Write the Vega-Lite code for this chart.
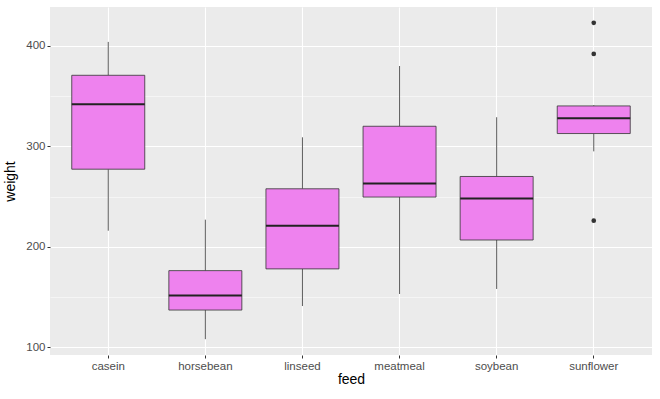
{
  "$schema": "https://vega.github.io/schema/vega-lite/v6.json",
  "width": 602,
  "height": 348,
  "autosize": {"type": "none"},
  "padding": {"left": 50, "top": 7, "right": 8, "bottom": 44},
  "background": "white",
  "config": {
    "view": {"fill": "#EBEBEB", "stroke": null},
    "font": "Liberation Sans",
    "axis": {
      "domain": false,
      "gridColor": "white",
      "tickColor": "#333333",
      "tickSize": 3,
      "labelColor": "#4D4D4D",
      "labelFontSize": 11.5,
      "titleFontSize": 14,
      "titleFontWeight": "normal",
      "titleColor": "black"
    }
  },
  "data": {
    "values": [
      {"feed": "horsebean", "weight": 179}, {"feed": "horsebean", "weight": 160}, {"feed": "horsebean", "weight": 136}, {"feed": "horsebean", "weight": 227}, {"feed": "horsebean", "weight": 217}, {"feed": "horsebean", "weight": 168}, {"feed": "horsebean", "weight": 108}, {"feed": "horsebean", "weight": 124}, {"feed": "horsebean", "weight": 143}, {"feed": "horsebean", "weight": 140},
      {"feed": "linseed", "weight": 309}, {"feed": "linseed", "weight": 229}, {"feed": "linseed", "weight": 181}, {"feed": "linseed", "weight": 141}, {"feed": "linseed", "weight": 260}, {"feed": "linseed", "weight": 203}, {"feed": "linseed", "weight": 148}, {"feed": "linseed", "weight": 169}, {"feed": "linseed", "weight": 213}, {"feed": "linseed", "weight": 257}, {"feed": "linseed", "weight": 244}, {"feed": "linseed", "weight": 271},
      {"feed": "soybean", "weight": 243}, {"feed": "soybean", "weight": 230}, {"feed": "soybean", "weight": 248}, {"feed": "soybean", "weight": 327}, {"feed": "soybean", "weight": 329}, {"feed": "soybean", "weight": 250}, {"feed": "soybean", "weight": 193}, {"feed": "soybean", "weight": 271}, {"feed": "soybean", "weight": 316}, {"feed": "soybean", "weight": 267}, {"feed": "soybean", "weight": 199}, {"feed": "soybean", "weight": 171}, {"feed": "soybean", "weight": 158}, {"feed": "soybean", "weight": 248},
      {"feed": "sunflower", "weight": 423}, {"feed": "sunflower", "weight": 340}, {"feed": "sunflower", "weight": 392}, {"feed": "sunflower", "weight": 339}, {"feed": "sunflower", "weight": 341}, {"feed": "sunflower", "weight": 226}, {"feed": "sunflower", "weight": 320}, {"feed": "sunflower", "weight": 295}, {"feed": "sunflower", "weight": 334}, {"feed": "sunflower", "weight": 322}, {"feed": "sunflower", "weight": 297}, {"feed": "sunflower", "weight": 318},
      {"feed": "meatmeal", "weight": 325}, {"feed": "meatmeal", "weight": 257}, {"feed": "meatmeal", "weight": 303}, {"feed": "meatmeal", "weight": 315}, {"feed": "meatmeal", "weight": 380}, {"feed": "meatmeal", "weight": 153}, {"feed": "meatmeal", "weight": 263}, {"feed": "meatmeal", "weight": 242}, {"feed": "meatmeal", "weight": 206}, {"feed": "meatmeal", "weight": 344}, {"feed": "meatmeal", "weight": 258},
      {"feed": "casein", "weight": 368}, {"feed": "casein", "weight": 390}, {"feed": "casein", "weight": 379}, {"feed": "casein", "weight": 260}, {"feed": "casein", "weight": 404}, {"feed": "casein", "weight": 318}, {"feed": "casein", "weight": 352}, {"feed": "casein", "weight": 359}, {"feed": "casein", "weight": 216}, {"feed": "casein", "weight": 222}, {"feed": "casein", "weight": 283}, {"feed": "casein", "weight": 332}
    ]
  },
  "mark": {
    "type": "boxplot",
    "extent": 1.5,
    "size": 73,
    "box": {"fill": "#EE82EE", "stroke": "#333333", "strokeWidth": 0.8, "opacity": 1},
    "median": {"color": "#222222", "thickness": 2, "opacity": 1},
    "rule": {"color": "#333333", "strokeWidth": 0.8, "opacity": 1},
    "ticks": false,
    "outliers": {"color": "#333333", "filled": true, "size": 22, "opacity": 1}
  },
  "encoding": {
    "x": {
      "field": "feed",
      "type": "nominal",
      "sort": ["casein", "horsebean", "linseed", "meatmeal", "soybean", "sunflower"],
      "scale": {"type": "band", "paddingInner": 0, "paddingOuter": 0.1},
      "axis": {
        "title": "feed",
        "labelAngle": 0,
        "bandPosition": 0.5,
        "grid": true,
        "gridWidth": 1.1,
        "labelPadding": 2,
        "titlePadding": 1
      }
    },
    "y": {
      "field": "weight",
      "type": "quantitative",
      "scale": {"domain": [92.25, 438.75], "nice": false, "zero": false},
      "axis": {
        "title": "weight",
        "values": [100, 150, 200, 250, 300, 350, 400],
        "labelExpr": "datum.value % 100 === 0 ? datum.label : ''",
        "gridWidth": {"condition": {"test": "datum.value % 100 === 0", "value": 1.1}, "value": 0.5},
        "tickSize": {"condition": {"test": "datum.value % 100 === 0", "value": 3}, "value": 0},
        "labelPadding": 2,
        "titlePadding": 8
      }
    }
  }
}
